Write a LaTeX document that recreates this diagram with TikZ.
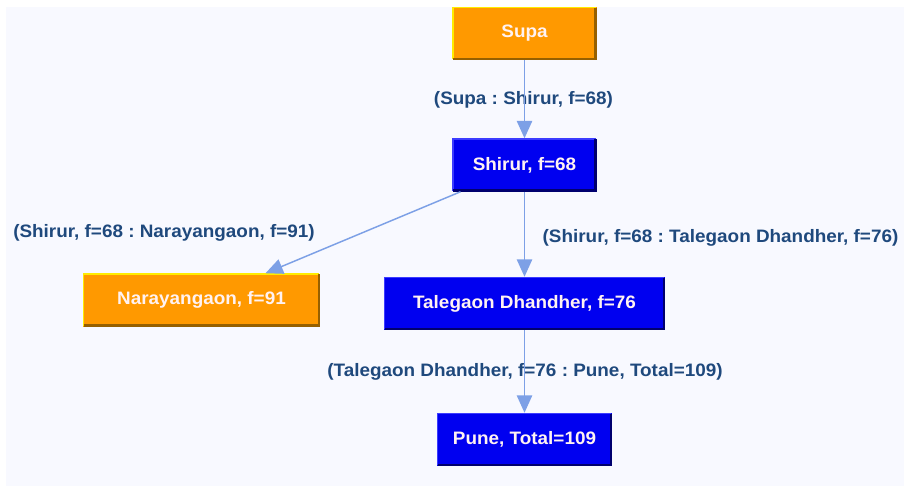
\documentclass[tikz,border=0pt]{standalone}
\usepackage{fontspec}
\setmainfont{Liberation Sans}[FakeStretch=1.05]
\usetikzlibrary{arrows.meta}
\frenchspacing
\definecolor{pagebg}{RGB}{248,249,255}
\definecolor{orangefill}{RGB}{255,153,0}
\definecolor{orangelight}{RGB}{255,236,0}
\definecolor{orangedark}{RGB}{150,96,0}
\definecolor{bluefill}{RGB}{0,0,240}
\definecolor{bluelight}{RGB}{60,60,255}
\definecolor{bluedark}{RGB}{0,0,110}
\definecolor{edgeblue}{RGB}{125,160,230}
\definecolor{labeltext}{RGB}{31,73,125}
\definecolor{nodetext}{RGB}{255,242,242}
\begin{document}
\begin{tikzpicture}[x=0.75pt,y=-0.75pt,
  every node/.style={font=\fontsize{13.5pt}{16pt}\selectfont\bfseries},
  city/.style={rectangle, inner sep=0pt, minimum height=39.75pt, text=nodetext},
  opencity/.style={city, fill=orangefill},
  donecity/.style={city, fill=bluefill},
  steplabel/.style={text=labeltext, inner sep=0pt},
  link/.style={draw=edgeblue, line width=1.1pt, -{Triangle[length=13pt,width=11.5pt]}}
]
% canvas
\useasboundingbox (0,0) rectangle (904,486);
\fill[white] (0,0) rectangle (904,486);
\fill[pagebg] (6,7) rectangle (904,486);

% search tree nodes
\node[opencity, minimum width=108pt]    (supa)  at (524.5,33.5)  {Supa};
\node[donecity, minimum width=108pt]    (shir)  at (524.5,165)   {Shirur, f=68};
\node[opencity, minimum width=177.75pt] (nara)  at (201.5,300)   {Narayangaon, f=91};
\node[donecity, minimum width=210.75pt] (tale)  at (524.5,303.5) {Talegaon Dhandher, f=76};
\node[donecity, minimum width=131.25pt] (pune)  at (524.5,439.5) {Pune, Total=109};

% raised bevels
\foreach \n/\lt/\dk in {supa/orangelight/orangedark, nara/orangelight/orangedark,
    shir/bluelight/bluedark, tale/bluelight/bluedark, pune/bluelight/bluedark}{
  \draw[\lt, line width=1.2pt] ([shift={(0.6pt,0.6pt)}]\n.south west) -- ([shift={(0.6pt,-0.6pt)}]\n.north west) -- ([shift={(-0.6pt,-0.6pt)}]\n.north east);
  \draw[\dk, line width=1.8pt] ([shift={(0.9pt,0.9pt)}]\n.south west) -- ([shift={(-0.9pt,0.9pt)}]\n.south east) -- ([shift={(-0.9pt,-0.9pt)}]\n.north east);
}

% edge labels
\node[steplabel] (l1) at (523.5,100) {(Supa : Shirur, f=68)};
\node[steplabel] (l2) at (164,233)   {(Shirur, f=68 : Narayangaon, f=91)};
\node[steplabel] (l3) at (720.5,238) {(Shirur, f=68 : Talegaon Dhandher, f=76)};
\node[steplabel] (l4) at (525,372)   {(Talegaon Dhandher, f=76 : Pune, Total=109)};

% edges
\draw[link] (supa) -- (shir);
\draw[link] (shir) -- (nara);
\draw[link] (shir) -- (tale);
\draw[link] (tale) -- (pune);
\end{tikzpicture}
\end{document}
